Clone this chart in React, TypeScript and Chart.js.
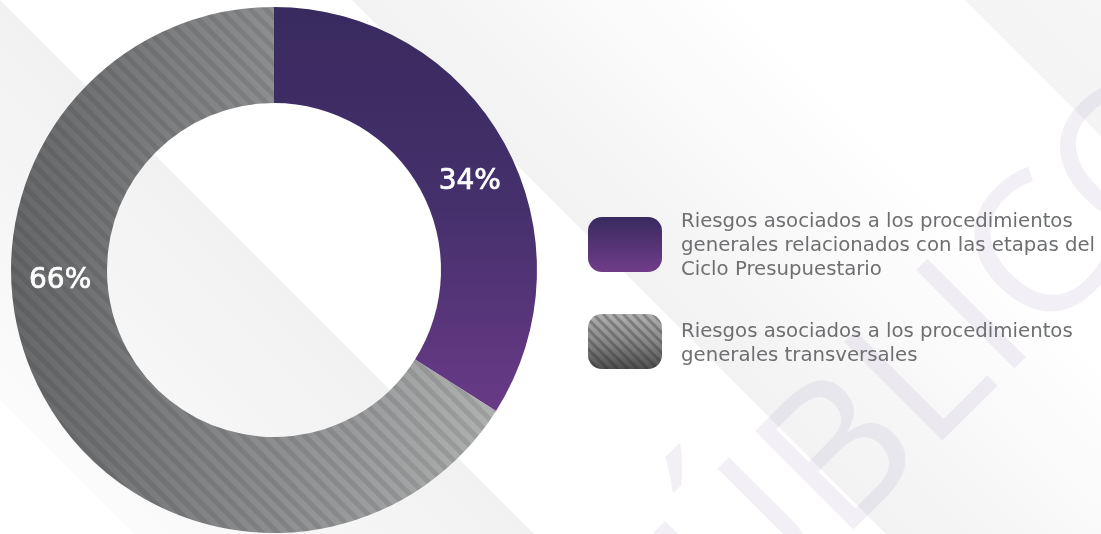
import React, { useEffect, useRef } from "react";
import { Chart, registerables } from "chart.js";

Chart.register(...registerables);

// ---------- data ----------
const categories: string[][] = [
  ["Riesgos asociados a los procedimientos", "generales relacionados con las etapas del", "Ciclo Presupuestario"],
  ["Riesgos asociados a los procedimientos", "generales transversales"],
];
const shares: number[] = [34, 66];
const watermarkText = "PÚBLICO";

// ---------- fills ----------
function segmentFill(chart: any, i: number): any {
  const area = chart.chartArea;
  const ctx: CanvasRenderingContext2D = chart.ctx;
  if (!area) return i === 0 ? "#4a316f" : "#858788";
  if (i === 0) {
    const g = ctx.createLinearGradient(0, area.top, 0, area.top + area.height * 0.77);
    g.addColorStop(0, "#382a5e");
    g.addColorStop(0.5, "#45306c");
    g.addColorStop(1, "#693a87");
    return g;
  }
  const off = document.createElement("canvas");
  off.width = chart.width;
  off.height = chart.height;
  const o = off.getContext("2d")!;
  const g = o.createLinearGradient(area.left, 0, area.right, 0);
  g.addColorStop(0, "#666769");
  g.addColorStop(0.5, "#8d8e90");
  g.addColorStop(1, "#b6b8b7");
  o.fillStyle = g;
  o.fillRect(0, 0, off.width, off.height);
  o.strokeStyle = "rgba(30,30,35,0.12)";
  o.lineWidth = 5;
  for (let k = -off.height; k < off.width; k += 15.5) {
    o.beginPath();
    o.moveTo(k, 0);
    o.lineTo(k + off.height, off.height);
    o.stroke();
  }
  return ctx.createPattern(off, "no-repeat");
}

// ---------- plugins ----------
const backgroundPlugin = {
  id: "pageBackground",
  beforeDraw(chart: any) {
    const { ctx, width, height } = chart;
    ctx.save();
    ctx.fillStyle = "#ffffff";
    ctx.fillRect(0, 0, width, height);
    const band = (d0: number, d1: number, c0: string, c1: string) => {
      const big = 3000;
      ctx.beginPath();
      ctx.moveTo(d0 - big, -big);
      ctx.lineTo(d0 + big, big);
      ctx.lineTo(d1 + big, big);
      ctx.lineTo(d1 - big, -big);
      ctx.closePath();
      const g = ctx.createLinearGradient(d0 / 2, -d0 / 2, d1 / 2, -d1 / 2);
      g.addColorStop(0, c0);
      g.addColorStop(1, c1);
      ctx.fillStyle = g;
      ctx.fill();
    };
    band(-400, 0, "#fbfbfb", "#f1f1f2");
    band(352, 740, "#f2f2f3", "#ffffff");
    band(965, 1500, "#f4f4f5", "#fcfcfc");

    // watermark
    ctx.rotate(-Math.PI / 4);
    ctx.font = "195px 'Open Sans'";
    ctx.textBaseline = "alphabetic";
    ctx.textAlign = "left";
    const pre = ctx.measureText(watermarkText.slice(0, 2)).width;
    ctx.fillStyle = "rgba(150,130,180,0.12)";
    ctx.fillText(watermarkText, 210 - pre, 978);
    ctx.restore();
  },
};

const valueLabelPlugin = {
  id: "valueLabels",
  afterDatasetsDraw(chart: any, _args: any, opts: any) {
    const meta = chart.getDatasetMeta(0);
    const ctx: any = chart.ctx;
    const values = chart.data.datasets[0].data as number[];
    const size = 28;
    ctx.save();
    ctx.fillStyle = "#ffffff";
    ctx.strokeStyle = "#ffffff";
    ctx.lineWidth = 0.7;
    ctx.font = `${size}px 'DejaVu Sans'`;
    ctx.textAlign = "center";
    ctx.textBaseline = "alphabetic";
    meta.data.forEach((arc: any, i: number) => {
      const { x, y, innerRadius, outerRadius } = arc.getProps(["x", "y", "innerRadius", "outerRadius"], true);
      const a = ((opts.angles[i] - 90) * Math.PI) / 180;
      const r = (innerRadius + outerRadius) / 2;
      const tx = x + r * Math.cos(a) + 1;
      const ty = y + r * Math.sin(a) + size * 0.36;
      ctx.fillText(`${values[i]}%`, tx, ty);
      ctx.strokeText(`${values[i]}%`, tx, ty);
    });
    ctx.restore();
  },
};

const sideLegendPlugin = {
  id: "sideLegend",
  afterDraw(chart: any, _args: any, opts: any) {
    const ctx: CanvasRenderingContext2D = chart.ctx;
    const labels = chart.data.labels as string[][];
    ctx.save();
    ctx.font = "20px 'DejaVu Sans'";
    const w = ctx.measureText(labels[0][0]).width;
    const fontSize = (20 * opts.firstLineWidth) / w;
    labels.forEach((lines, i) => {
      const item = opts.items[i];
      const bx = opts.boxX, by = item.boxTop, bw = opts.boxW, bh = opts.boxH;
      ctx.save();
      ctx.beginPath();
      ctx.roundRect(bx, by, bw, bh, opts.boxRadius);
      ctx.clip();
      if (i === 0) {
        const g = ctx.createLinearGradient(0, by, 0, by + bh);
        g.addColorStop(0, "#382a5f");
        g.addColorStop(1, "#713d8a");
        ctx.fillStyle = g;
        ctx.fillRect(bx, by, bw, bh);
      } else {
        const g = ctx.createLinearGradient(0, by, 0, by + bh);
        g.addColorStop(0, "#b0b0b0");
        g.addColorStop(0.5, "#888888");
        g.addColorStop(1, "#4e4e4e");
        ctx.fillStyle = g;
        ctx.fillRect(bx, by, bw, bh);
        ctx.strokeStyle = "rgba(35,35,35,0.3)";
        ctx.lineWidth = 3;
        for (let k = bx - bh; k < bx + bw; k += 10) {
          ctx.beginPath();
          ctx.moveTo(k, by);
          ctx.lineTo(k + bh, by + bh);
          ctx.stroke();
        }
      }
      ctx.restore();
      ctx.fillStyle = "#6e6f71";
      ctx.font = `${fontSize}px 'DejaVu Sans'`;
      ctx.textAlign = "left";
      ctx.textBaseline = "alphabetic";
      lines.forEach((line, j) => {
        ctx.fillText(line, opts.textX, item.firstBaseline + j * opts.lineHeight);
      });
    });
    ctx.restore();
  },
};

export default function App() {
  const ref = useRef<HTMLCanvasElement>(null);
  useEffect(() => {
    document.body.style.margin = "0";
    const canvas = ref.current!;
    const chart = new Chart(canvas, {
      type: "doughnut",
      data: {
        labels: categories as any,
        datasets: [
          {
            data: shares,
            backgroundColor: (c: any) => segmentFill(c.chart, c.dataIndex),
            borderWidth: 0,
          },
        ],
      },
      options: {
        responsive: false,
        animation: false,
        cutout: "63.5%",
        events: [],
        layout: { padding: { left: 11, top: 7, right: 564, bottom: 1 } },
        plugins: {
          legend: { display: false },
          tooltip: { enabled: false },
          valueLabels: { angles: [65, 268] },
          sideLegend: {
            boxX: 588,
            boxW: 74,
            boxH: 55,
            boxRadius: 14,
            textX: 681,
            lineHeight: 24,
            firstLineWidth: 392,
            items: [
              { boxTop: 217, firstBaseline: 227 },
              { boxTop: 314, firstBaseline: 337 },
            ],
          },
        } as any,
      },
      plugins: [backgroundPlugin, valueLabelPlugin, sideLegendPlugin],
    });
    return () => chart.destroy();
  }, []);
  return (
    <div style={{ position: "absolute", left: 0, top: 0, width: 1101, height: 534, overflow: "hidden" }}>
      <canvas ref={ref} width={1101} height={534} style={{ display: "block", width: 1101, height: 534 }} />
    </div>
  );
}
